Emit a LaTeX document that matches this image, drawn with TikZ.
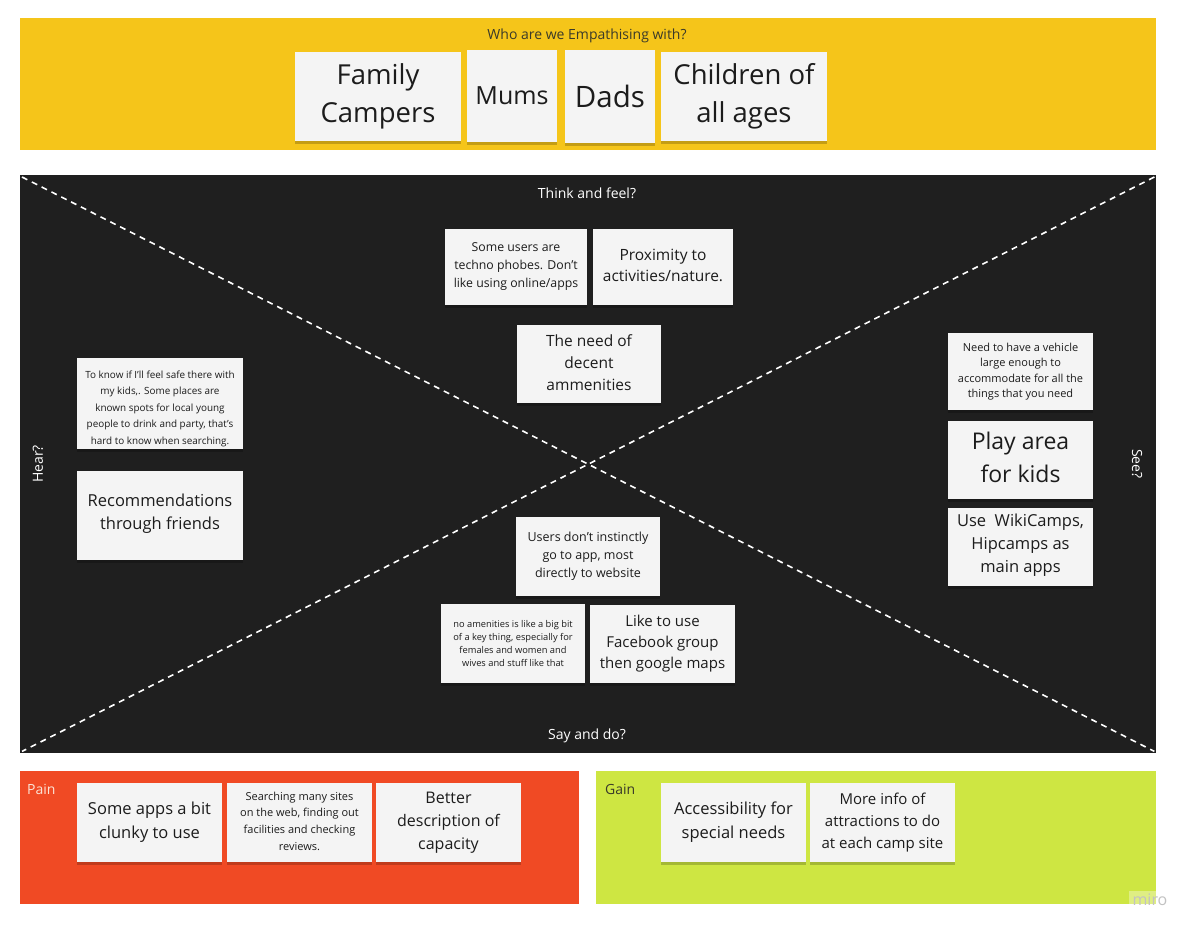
\documentclass[tikz,border=0pt]{standalone}
\usepackage{fontspec}
\setmainfont{Open Sans}
\usetikzlibrary{shadows}
\definecolor{mustard}{HTML}{F5C51A}
\definecolor{board}{HTML}{1F1F1F}
\definecolor{painred}{HTML}{F04A24}
\definecolor{gainlime}{HTML}{CEE642}
\definecolor{notewhite}{HTML}{F4F4F4}
\definecolor{notetext}{HTML}{1C1C1C}
\definecolor{labeldark}{HTML}{3A3A2A}
\definecolor{painlabel}{HTML}{FBE3D6}
\definecolor{mirogray}{HTML}{C2C2C2}
\newcommand\fz[2]{\fontsize{#1}{#2}\selectfont}
\tikzset{
  band/.style={draw=none, inner sep=0pt, anchor=north west},
  sticky/.style={fill=notewhite, inner sep=0pt, align=center, text=notetext,
    drop shadow={shadow xshift=0pt, shadow yshift=-3pt, opacity=0.2, fill=black}},
  notetxt/.style={inner sep=0pt, align=center, text=notetext},
  divider/.style={draw=white, line width=1.6pt, dash pattern=on 6pt off 5pt},
  tag/.style={inner sep=0pt, font=\fz{14}{16}}
}
\begin{document}
\begin{tikzpicture}[x=1pt,y=-1pt]
\useasboundingbox[fill=white] (0,0) rectangle (1181,933);

% bands
\node[band, fill=mustard, minimum width=1136pt, minimum height=132pt] (who) at (20,18) {};
\node[band, fill=board, minimum width=1136pt, minimum height=578pt] (map) at (20,175) {};
\node[band, fill=painred, minimum width=559pt, minimum height=133pt] (pain) at (20,771) {};
\node[band, fill=gainlime, minimum width=560pt, minimum height=133pt] (gain) at (596,771) {};

% diagonals
\coordinate (nw) at ([xshift=2pt,yshift=-2pt]map.north west);
\coordinate (se) at ([xshift=-2pt,yshift=2pt]map.south east);
\coordinate (ne) at ([xshift=-2pt,yshift=-2pt]map.north east);
\coordinate (sw) at ([xshift=2pt,yshift=2pt]map.south west);
\draw[divider] (nw) -- (se);
\draw[divider] (ne) -- (sw);

% labels
\node[tag, text=labeldark] (whot) at (587,36) {Who are we Empathising with?};
\node[tag, text=white] (think) at (587,193) {Think and feel?};
\node[tag, text=white] (say) at (587,736) {Say and do?};
\node[tag, text=white, rotate=90] (hear) at (38,464) {Hear?};
\node[tag, text=white, rotate=-90] (see) at (1137,464) {See?};
\node[tag, text=painlabel, anchor=west] (paint) at (27,789) {Pain};
\node[tag, text=labeldark, anchor=west] (gaint) at (605,789) {Gain};
\node[tag, text=mirogray, font=\fz{16}{18}, fill=white, fill opacity=0.35, text opacity=1, inner xsep=4pt, inner ysep=3pt] (miro) at (1150,900) {miro};

% top stickies
\node[sticky, minimum width=166pt, minimum height=89pt, font=\fz{27.5}{38}] (fam) at (378,96.5) {Family\\Campers};
\node[sticky, minimum width=90pt, minimum height=92pt, font=\fz{25}{30}] (mums) at (512,96) {Mums};
\node[sticky, minimum width=90pt, minimum height=93pt, font=\fz{29.5}{30}] (dads) at (610,96.5) {Dads};
\node[sticky, minimum width=166pt, minimum height=89pt, font=\fz{27.5}{38}] (child) at (744,96.5) {Children of\\all ages};

% think and feel
\node[sticky, minimum width=142pt, minimum height=76pt, font=\fz{12.3}{18}] (techno) at (516,267) {Some users are\\techno phobes. Don't\\like using online/apps};
\node[sticky, minimum width=140pt, minimum height=76pt] (prox) at (663,267) {};
\node[notetxt, font=\fz{15.5}{21}] (proxtext) at ([yshift=1.5pt]prox.center) {Proximity to\\activities/nature.};
\node[sticky, minimum width=144pt, minimum height=78pt] (need) at (589,364) {};
\node[notetxt, font=\fz{15.5}{22}] (needtext) at ([yshift=1.5pt]need.center) {The need of\\decent\\ammenities};

% hear
\node[sticky, minimum width=166pt, minimum height=91pt] (safe) at (160,403.5) {};
\node[notetxt, font=\fz{9.9}{16.5}] (safetext) at ([yshift=-5pt]safe.center) {To know if I'll feel safe there with\\my kids,. Some places are\\known spots for local young\\people to drink and party, that's\\hard to know when searching.};
\node[sticky, minimum width=166pt, minimum height=89pt] (recom) at (160,515.5) {};
\node[notetxt, font=\fz{16.5}{23}] (recomtext) at ([yshift=1.5pt]recom.center) {Recommendations\\through friends};

% see
\node[sticky, minimum width=145pt, minimum height=77pt, font=\fz{11}{15.5}] (vehicle) at (1020.5,371.5) {Need to have a vehicle\\large enough to\\accommodate for all the\\things that you need};
\node[sticky, minimum width=145pt, minimum height=78pt] (play) at (1020.5,460) {};
\node[notetxt, font=\fz{23}{33}] (playtext) at ([yshift=3pt]play.center) {Play area\\for kids};
\node[sticky, minimum width=145pt, minimum height=78pt] (wiki) at (1020.5,547) {};
\node[notetxt, font=\fz{16.5}{23}] (wikitext) at ([yshift=1.5pt]wiki.center) {Use\ \ WikiCamps,\\Hipcamps as\\main apps};

% say and do
\node[sticky, minimum width=144pt, minimum height=79pt, font=\fz{12.5}{18}] (users) at (588,556.5) {Users don't instinctly\\go to app, most\\directly to website};
\node[sticky, minimum width=144pt, minimum height=79pt, font=\fz{9.3}{12.7}] (noamen) at (513,643.5) {no amenities is like a big bit\\of a key thing, especially for\\females and women and\\wives and stuff like that};
\node[sticky, minimum width=145pt, minimum height=78pt, font=\fz{15}{21}] (fb) at (662.5,644) {Like to use\\Facebook group\\then google maps};

% pain
\node[sticky, minimum width=145pt, minimum height=79pt, font=\fz{16.5}{24}] (clunky) at (149.5,822.5) {Some apps a bit\\clunky to use};
\node[sticky, minimum width=145pt, minimum height=79pt] (search) at (299.5,822.5) {};
\node[notetxt, font=\fz{11}{16.7}] (searchtext) at ([yshift=1.5pt]search.center) {Searching many sites\\on the web, finding out\\facilities and checking\\reviews.};
\node[sticky, minimum width=145pt, minimum height=79pt, font=\fz{16}{23}] (better) at (448.5,822.5) {Better\\description of\\capacity};

% gain
\node[sticky, minimum width=145pt, minimum height=79pt, font=\fz{16.5}{24}] (access) at (733.5,822.5) {Accessibility for\\special needs};
\node[sticky, minimum width=145pt, minimum height=79pt, font=\fz{15}{22}] (more) at (882.5,822.5) {More info of\\attractions to do\\at each camp site};
\end{tikzpicture}
\end{document}
